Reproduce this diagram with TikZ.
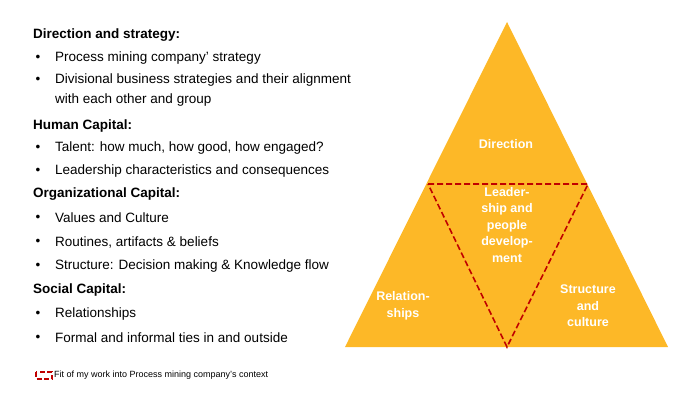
\documentclass[tikz,border=0pt]{standalone}
\usepackage{fontspec}
\setmainfont{Liberation Sans}
\begin{document}
\begin{tikzpicture}[x=1pt,y=-1pt,
  head/.style={anchor=west,inner sep=0pt,font=\fontsize{13.5}{16}\selectfont\bfseries},
  item/.style={anchor=west,inner sep=0pt,font=\fontsize{13.5}{16}\selectfont},
  dot/.style={anchor=center,inner sep=0pt,font=\fontsize{13.5}{16}\selectfont},
  tri/.style={align=center,text=white,inner sep=0pt,font=\fontsize{12.5}{16.5}\selectfont\bfseries}]
\useasboundingbox (0,0) rectangle (700,407);
\definecolor{gold}{HTML}{FDB827}
\definecolor{dred}{HTML}{C00000}
\fill[gold] (507,22) coordinate (A) -- (345,347) coordinate (B) -- (668,347) coordinate (C) -- cycle;
\coordinate (D1) at (428,184); \coordinate (D2) at (588,184); \coordinate (D3) at (507,347);
\draw[dred,dashed,line width=1.6pt,dash pattern=on 6pt off 3pt] (D1) -- (D2) -- (D3) -- cycle;
\node[tri] (t1) at (506,144) {Direction};
\node[tri] (t2) at (507,225) {Leader-\\ship and\\people\\develop-\\ment};
\node[tri] (t3) at (403,306) {Relation-\\ships};
\node[tri] (t4) at (588,306) {Structure\\and\\culture};
\node[head] (h1) at (33,35) {Direction and strategy:};
\node[dot] at (38,58) {•}; \node[item] (i1) at (55,58) {Process mining company’ strategy};
\node[dot] at (38,80) {•}; \node[item,align=left,font=\fontsize{13.5}{20}\selectfont] (i2) at (55,90) {Divisional business strategies and their alignment\\with each other and group};
\node[head] (h2) at (33,126) {Human Capital:};
\node[dot] at (38,148) {•}; \node[item] (i3) at (55,148) {Talent: how much, how good, how engaged?};
\node[dot] at (38,171) {•}; \node[item] (i4) at (55,171) {Leadership characteristics and consequences};
\node[head] (h3) at (33,194) {Organizational Capital:};
\node[dot] at (38,218) {•}; \node[item] (i5) at (55,218) {Values and Culture};
\node[dot] at (38,242) {•}; \node[item] (i6) at (55,242) {Routines, artifacts \& beliefs};
\node[dot] at (38,266) {•}; \node[item] (i7) at (55,266) {Structure: Decision making \& Knowledge flow};
\node[head] (h4) at (33,290) {Social Capital:};
\node[dot] at (38,314) {•}; \node[item] (i8) at (55,314) {Relationships};
\node[dot] at (38,338) {•}; \node[item] (i9) at (55,338) {Formal and informal ties in and outside};
\draw[dred,line width=1.5pt,dash pattern=on 5pt off 2.5pt] (36,372) rectangle (52,379);
\node[item,font=\fontsize{9}{11}\selectfont] (lg) at (54,375) {Fit of my work into Process mining company’s context};
\end{tikzpicture}
\end{document}
